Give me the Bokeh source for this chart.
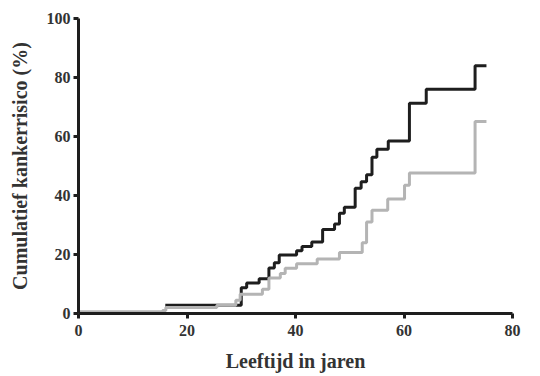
from bokeh.plotting import figure
from bokeh.models import Range1d, FixedTicker
from bokeh.embed import file_html
from bokeh.resources import INLINE

# Black series (upper curve)
black_x = [16, 30, 31, 33.3, 35.1, 36.1, 37.0, 40.2, 41.2, 43.0, 45.0, 47.2, 48.1, 49.0, 51.0, 52.1, 53.1, 54.1, 55.0, 57.1, 61.0, 64.1, 73.1, 75.2]
black_y = [2.8, 8.7, 10.3, 11.8, 15.4, 17.2, 19.8, 21.3, 22.7, 24.2, 28.5, 30.3, 34.0, 36.0, 42.5, 44.7, 47.0, 53.0, 55.7, 58.5, 71.3, 76.0, 84.0, 84.0]

# Grey series (lower curve)
grey_x = [0, 15.5, 16.1, 25.5, 29.0, 29.8, 33.9, 35.1, 37.2, 38.1, 40.2, 44.0, 48.1, 52.3, 53.1, 54.1, 57.0, 60.1, 61.0, 73.1, 75.2]
grey_y = [0.6, 1.0, 2.0, 2.8, 4.5, 6.5, 8.2, 12.0, 13.6, 15.3, 16.9, 18.5, 20.7, 24.0, 31.0, 35.0, 38.8, 43.5, 47.6, 65.1, 65.1]

x_ticks = [0, 20, 40, 60, 80]
y_ticks = [0, 20, 40, 60, 80, 100]

p = figure(width=532, height=374, output_backend="svg", toolbar_location=None,
           x_range=Range1d(0, 80), y_range=Range1d(0, 100),
           min_border_left=78, min_border_right=20, min_border_top=18, min_border_bottom=59)
p.outline_line_color = None
p.xgrid.grid_line_color = None
p.ygrid.grid_line_color = None
p.background_fill_color = "white"
p.border_fill_color = "white"

p.step(black_x, black_y, mode="after", line_color="#1e1e1e", line_width=3)
p.step(grey_x, grey_y, mode="after", line_color="#b4b4b4", line_width=3)

font = "Liberation Serif"
for ax in (p.xaxis[0], p.yaxis[0]):
    ax.axis_line_width = 3
    ax.axis_line_color = "#1e1e1e"
    ax.major_tick_line_width = 3
    ax.major_tick_line_color = "#1e1e1e"
    ax.major_tick_in = 0
    ax.major_tick_out = 5
    ax.minor_tick_out = 0
    ax.minor_tick_in = 0
    ax.major_label_text_font = font
    ax.major_label_text_font_style = "bold"
    ax.major_label_text_font_size = "16px"
    ax.major_label_text_color = "#333333"
    ax.axis_label_text_font = font
    ax.axis_label_text_font_style = "bold"
    ax.axis_label_text_color = "#333333"

p.xaxis[0].axis_label_text_font_size = "20px"
p.yaxis[0].axis_label_text_font_size = "20px"
p.xaxis[0].ticker = FixedTicker(ticks=x_ticks)
p.yaxis[0].ticker = FixedTicker(ticks=y_ticks)
p.xaxis[0].major_label_standoff = 6
p.yaxis[0].major_label_standoff = 3
p.xaxis[0].axis_label = "Leeftijd in jaren"
p.yaxis[0].axis_label = "Cumulatief kankerrisico (%)"
p.xaxis[0].axis_label_standoff = 11
p.yaxis[0].axis_label_standoff = 13

open("out.html", "w").write(file_html(p, INLINE))
